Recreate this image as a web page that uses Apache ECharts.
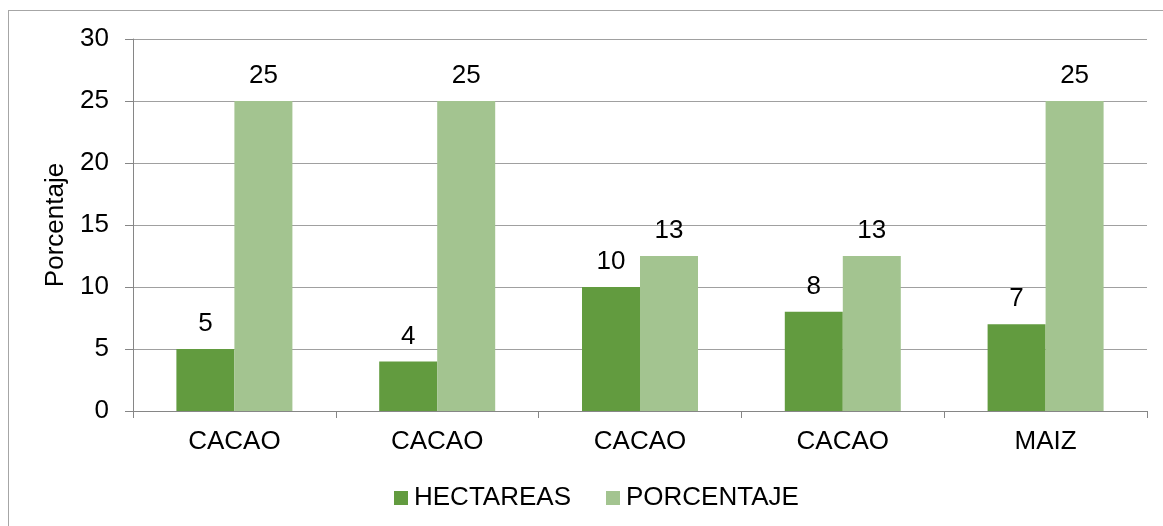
<!DOCTYPE html>
<html>
<head>
<meta charset="utf-8">
<script src="https://cdn.jsdelivr.net/npm/echarts@6/dist/echarts.min.js"></script>
<style>
  html, body { margin: 0; padding: 0; background: #fff; }
  #frame { position: absolute; left: 8px; top: 10px; width: 1200px; height: 600px; border: 1px solid #a6a6a6; box-sizing: border-box; }
  #chart { position: absolute; left: 0; top: 0; width: 1163px; height: 526px; }
</style>
</head>
<body>
<div id="frame"></div>
<div id="chart"></div>
<script>
// categorias y valores
const categorias = ['CACAO', 'CACAO', 'CACAO', 'CACAO', 'MAIZ']
const hectareas = [5, 4, 10, 8, 7]
const porcentaje = [25, 25, 12.5, 12.5, 25]

const fuente = 'Liberation Sans, Arial, sans-serif'
const tam = 26
const etiqueta = {
  show: true,
  position: 'top',
  distance: 12,
  color: '#000',
  fontSize: tam,
  fontFamily: fuente,
  formatter: p => Math.round(p.value)
}

const chart = echarts.init(document.getElementById('chart'))
chart.setOption({
  animation: false,
  textStyle: { fontFamily: fuente },
  grid: { left: 133, right: 16, top: 39, bottom: 115 },
  legend: {
    bottom: 10,
    left: 389,
    itemWidth: 14,
    itemHeight: 14,
    itemGap: 35,
    icon: 'rect',
    textStyle: { fontSize: tam, color: '#000', fontFamily: fuente, padding: [0, 0, 0, 1] },
    data: ['HECTAREAS', 'PORCENTAJE']
  },
  xAxis: {
    type: 'category',
    data: categorias,
    axisLine: { lineStyle: { color: '#868686', width: 1 } },
    axisTick: { show: true, length: 7, lineStyle: { color: '#868686' } },
    axisLabel: { fontSize: tam, color: '#000', margin: 18 }
  },
  yAxis: {
    type: 'value',
    min: 0,
    max: 30,
    interval: 5,
    name: 'Porcentaje',
    nameLocation: 'middle',
    nameGap: 62,
    nameTextStyle: { fontSize: tam, color: '#000' },
    axisLine: { show: true, lineStyle: { color: '#868686', width: 1 } },
    axisTick: { show: true, length: 8, lineStyle: { color: '#868686' } },
    axisLabel: { fontSize: tam, color: '#000', margin: 24 },
    splitLine: { lineStyle: { color: '#a0a0a0', width: 1 } }
  },
  series: [
    {
      name: 'HECTAREAS',
      type: 'bar',
      data: hectareas,
      barWidth: 58,
      barGap: '0%',
      itemStyle: { color: '#629b3f' },
      label: etiqueta
    },
    {
      name: 'PORCENTAJE',
      type: 'bar',
      data: porcentaje,
      barWidth: 58,
      itemStyle: { color: '#a3c490' },
      label: etiqueta
    }
  ]
})
</script>
</body>
</html>
